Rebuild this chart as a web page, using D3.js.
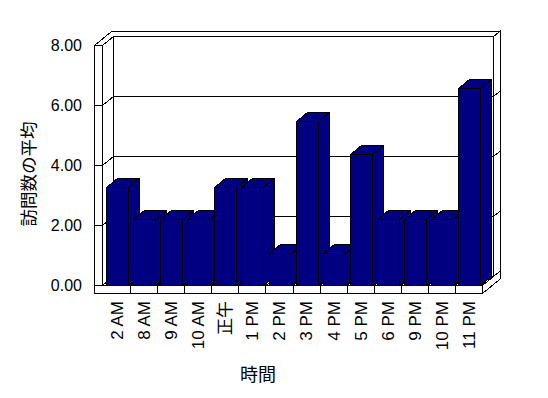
<!DOCTYPE html>
<html>
<head>
<meta charset="utf-8">
<script src="https://cdn.jsdelivr.net/npm/d3@7"></script>
<style>
body { margin: 0; background: #fff; }
text { font-family: 'Liberation Sans', 'Noto Sans CJK JP', sans-serif; fill: #000; }
</style>
</head>
<body>
<div id="chart"></div>
<script>
const categories = ['2 AM', '8 AM', '9 AM', '10 AM', '正午', '1 PM', '2 PM', '3 PM', '4 PM', '5 PM', '6 PM', '9 PM', '10 PM', '11 PM'];
const visits = [3.3, 2.2, 2.2, 2.2, 3.3, 3.3, 1.1, 5.5, 1.1, 4.4, 2.2, 2.2, 2.2, 6.6];
const yTicks = [0, 2, 4, 6, 8];
const xTitle = '時間';
const yTitle = '訪問数の平均';

const width = 548, height = 398;
const barColor = '#000080';
const depth = { x: 11, y: -9 };   // front -> back offset
const wall = 8;                   // side wall / floor thickness
const backT = 0.6;                // back wall thickness (part of depth)

const svg = d3.select('#chart').append('svg')
	.attr('width', width)
	.attr('height', height)
	.style('display', 'block');

const x = d3.scaleBand()
	.domain(categories)
	.range([103.5, 482.5])
	.paddingInner(0.19)
	.paddingOuter(0.095);
const y = d3.scaleLinear()
	.domain([0, 8])
	.range([285.5, 45.5]);

const x0 = x.range()[0] - 1, x1 = x.range()[1];
const y0 = y(0), yt = y(8), yb = y(0) + wall;

// project (px, py, z) where z is depth 0 (front) .. 1 (back)
const pt = (px, py, z) => [px + z * depth.x, py + z * depth.y];
const poly = pts => 'M' + pts.map(p => pt(p[0], p[1], p[2]).join(',')).join('L') + 'Z';
const seg = (a, b) => 'M' + pt(a[0], a[1], a[2]).join(',') + 'L' + pt(b[0], b[1], b[2]).join(',');

const frame = svg.append('g')
	.attr('fill', '#fff')
	.attr('stroke', '#000')
	.attr('shape-rendering', 'crispEdges');

const faces = [
	// right side of back wall + floor
	[[x1, yt, 1], [x1, yt, 1 + backT], [x1, yb, 1 + backT], [x1, yb, 0], [x1, y0, 0], [x1, y0, 1]],
	// top of side wall + back wall
	[[x0 - wall, yt, 0], [x0, yt, 0], [x0, yt, 1], [x1, yt, 1], [x1, yt, 1 + backT], [x0 - wall, yt, 1 + backT]],
	// back wall
	[[x0, y0, 1], [x0, yt, 1], [x1, yt, 1], [x1, y0, 1]],
	// side wall inside
	[[x0, yt, 0], [x0, yt, 1], [x0, y0, 1], [x0, y0, 0]],
	// front edge of side wall + floor
	[[x0 - wall, yt, 0], [x0, yt, 0], [x0, y0, 0], [x1, y0, 0], [x1, yb, 0], [x0 - wall, yb, 0]],
	// floor
	[[x0, y0, 0], [x1, y0, 0], [x1, y0, 1], [x0, y0, 1]]
];
frame.selectAll('path.face')
	.data(faces)
	.enter().append('path')
	.attr('class', 'face')
	.attr('d', poly);

// gridlines
yTicks.forEach(v => {
	const gy = y(v);
	frame.append('path')
		.attr('fill', 'none')
		.attr('d', seg([x0 - wall, gy, 0], [x0, gy, 0]) +
			seg([x0, gy, 0], [x0, gy, 1]) +
			seg([x0, gy, 1], [x1, gy, 1]) +
			seg([x1, gy, 1], [x1, gy, 1 + backT]));
});

// category dividers on the floor
const gap = x.step() * x.paddingInner() / 2;
categories.slice(1).forEach(c => {
	const dx = x(c) - gap;
	frame.append('path')
		.attr('fill', 'none')
		.attr('d', seg([dx, y0, 0], [dx, yb, 0]) + seg([dx, y0, 0], [dx, y0, 1]));
});

// bars
const bars = svg.append('g')
	.attr('fill', barColor)
	.attr('stroke', '#000')
	.attr('shape-rendering', 'crispEdges')
	.selectAll('g.bar')
	.data(categories.map((c, i) => ({ c: c, v: visits[i] })))
	.enter().append('g')
	.attr('class', 'bar');

bars.each(function(d) {
	const g = d3.select(this);
	const bx = Math.round(x(d.c)) + 0.5;
	const bw = Math.round(x.bandwidth());
	const top = Math.round(y(d.v)) + 0.5;
	g.append('path').attr('d', poly([[bx, y0, 0], [bx, top, 0], [bx + bw, top, 0], [bx + bw, y0, 0]]));
	g.append('path').attr('d', poly([[bx, top, 0], [bx, top, 1], [bx + bw, top, 1], [bx + bw, top, 0]]));
	g.append('path').attr('d', poly([[bx + bw, top, 0], [bx + bw, top, 1], [bx + bw, y0, 1], [bx + bw, y0, 0]]));
});

// axes
const yAxis = svg.append('g')
	.attr('transform', 'translate(82,0)')
	.call(d3.axisLeft(y).tickValues(yTicks).tickFormat(d3.format('.2f')).tickSize(0).tickPadding(0));
yAxis.select('.domain').remove();
yAxis.attr('font-family', null).attr('font-size', 16);

const xAxis = svg.append('g')
	.attr('transform', 'translate(0,301)')
	.call(d3.axisBottom(x).tickSize(0).tickPadding(0));
xAxis.select('.domain').remove();
xAxis.attr('font-family', null).attr('font-size', 17);
xAxis.selectAll('text')
	.attr('y', 0)
	.attr('dy', '0.35em')
	.attr('transform', 'rotate(-90)')
	.attr('text-anchor', 'end');

// titles
svg.append('text')
	.attr('transform', 'translate(29,174) rotate(-90)')
	.attr('text-anchor', 'middle')
	.attr('dominant-baseline', 'central')
	.attr('font-size', 17.5)
	.text(yTitle);

svg.append('text')
	.attr('x', 258)
	.attr('y', 374.5)
	.attr('text-anchor', 'middle')
	.attr('dominant-baseline', 'central')
	.attr('font-size', 18)
	.text(xTitle);
</script>
</body>
</html>
